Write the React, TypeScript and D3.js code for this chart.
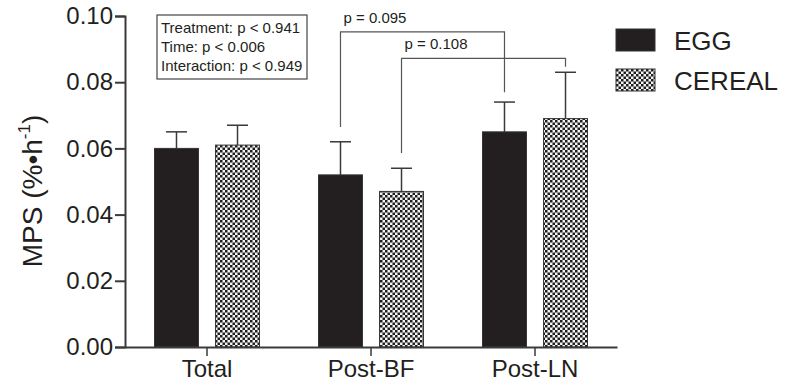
import React, { useEffect, useRef } from "react";
import * as d3 from "d3";

// chart data
const groups = ["Total", "Post-BF", "Post-LN"];
const series = ["EGG", "CEREAL"];
const eggMeans = [0.06, 0.052, 0.065];
const eggErrors = [0.005, 0.01, 0.009];
const cerealMeans = [0.061, 0.047, 0.069];
const cerealErrors = [0.006, 0.007, 0.014];
const yTicks = [0, 0.02, 0.04, 0.06, 0.08, 0.1];
const statsLines = ["Treatment: p < 0.941", "Time: p < 0.006", "Interaction: p < 0.949"];
const brackets = [
  { label: "p = 0.095", from: ["Post-BF", "EGG"], to: ["Post-LN", "EGG"], top: 0.0952, leftEnd: 0.0665, rightEnd: 0.077 },
  { label: "p = 0.108", from: ["Post-BF", "CEREAL"], to: ["Post-LN", "CEREAL"], top: 0.0872, leftEnd: 0.0586, rightEnd: 0.0847 },
];

const FONT = "'Liberation Sans', Arial, Helvetica, sans-serif";
const DARK = "#231f20";
const LINE = "#3a3a3a";

const App = () => {
  const svgRef = useRef<SVGSVGElement>(null);

  useEffect(() => {
    const width = 785;
    const height = 388;
    const svg = d3.select(svgRef.current);
    svg.selectAll("*").remove();
    svg.attr("width", width).attr("height", height).style("font-family", FONT);

    // checker pattern for CEREAL
    const defs = svg.append("defs");
    const pat = defs.append("pattern")
      .attr("id", "checker")
      .attr("patternUnits", "userSpaceOnUse")
      .attr("width", 5).attr("height", 5);
    pat.append("rect").attr("width", 5).attr("height", 5).attr("fill", "#f4f4f4");
    pat.append("rect").attr("x", 0).attr("y", 0).attr("width", 2.5).attr("height", 2.5).attr("fill", "#1e1e1e");
    pat.append("rect").attr("x", 2.5).attr("y", 2.5).attr("width", 2.5).attr("height", 2.5).attr("fill", "#1e1e1e");

    const x0 = d3.scaleBand().domain(groups).range([125, 617]).paddingInner(0.36).paddingOuter(0.18);
    const x1 = d3.scaleBand().domain(series).range([0, x0.bandwidth()]).paddingInner(0.28);
    const y = d3.scaleLinear().domain([0, 0.1]).range([347, 16]);

    const rows = groups.flatMap((g, i) => [
      { group: g, key: "EGG", mean: eggMeans[i], err: eggErrors[i] },
      { group: g, key: "CEREAL", mean: cerealMeans[i], err: cerealErrors[i] },
    ]);
    const cx = (g: string, k: string) => (x0(g) as number) + (x1(k) as number) + x1.bandwidth() / 2;

    // error bars (upward only)
    const eb = svg.append("g").attr("stroke", LINE).attr("stroke-width", 1.5);
    rows.forEach(d => {
      const c = cx(d.group, d.key);
      eb.append("line").attr("x1", c).attr("x2", c).attr("y1", y(d.mean)).attr("y2", y(d.mean + d.err));
      eb.append("line").attr("x1", c - 10.5).attr("x2", c + 10.5).attr("y1", y(d.mean + d.err)).attr("y2", y(d.mean + d.err));
    });

    // bars
    svg.append("g").selectAll("rect")
      .data(rows)
      .enter().append("rect")
      .attr("x", d => (x0(d.group) as number) + (x1(d.key) as number))
      .attr("y", d => y(d.mean))
      .attr("width", x1.bandwidth())
      .attr("height", d => y(0) - y(d.mean))
      .attr("fill", d => d.key === "EGG" ? DARK : "url(#checker)")
      .attr("stroke", "#333")
      .attr("stroke-width", 1);

    // y axis
    const yAxis = svg.append("g").attr("transform", "translate(125,0)")
      .call(d3.axisLeft(y).tickValues(yTicks).tickFormat(d3.format(".2f")).tickSize(10).tickPadding(2));
    yAxis.select(".domain").attr("stroke", LINE).attr("stroke-width", 2);
    yAxis.selectAll(".tick line").attr("stroke", LINE).attr("stroke-width", 2);
    yAxis.selectAll(".tick text").attr("font-size", 24).attr("font-family", FONT).attr("fill", DARK);

    // x axis
    const xAxis = svg.append("g").attr("transform", "translate(0,347)")
      .call(d3.axisBottom(x0).tickSize(9).tickSizeOuter(0).tickPadding(4));
    xAxis.select(".domain").attr("stroke", LINE).attr("stroke-width", 2);
    xAxis.selectAll(".tick line").attr("stroke", LINE).attr("stroke-width", 1.5);
    xAxis.selectAll(".tick text").attr("font-size", 24).attr("font-family", FONT).attr("fill", DARK);

    // y label
    const yl = svg.append("text")
      .attr("transform", "translate(42,191) rotate(-90)")
      .attr("text-anchor", "middle")
      .attr("font-size", 28)
      .attr("fill", DARK);
    yl.append("tspan").text("MPS (%\u2022h");
    yl.append("tspan").attr("dy", -12).attr("font-size", 17).text("-1");
    yl.append("tspan").attr("dy", 12).text(")");

    // significance brackets
    brackets.forEach(b => {
      const xl = cx(b.from[0], b.from[1]);
      const xr = cx(b.to[0], b.to[1]);
      svg.append("path")
        .attr("d", `M${xl},${y(b.leftEnd)}V${y(b.top)}H${xr}V${y(b.rightEnd)}`)
        .attr("fill", "none").attr("stroke", "#555").attr("stroke-width", 1.2);
      svg.append("text")
        .attr("x", xl + 3).attr("y", y(b.top) - 9)
        .attr("font-size", 15).attr("fill", DARK)
        .text(b.label);
    });

    // stats box
    svg.append("rect")
      .attr("x", 157).attr("y", 15).attr("width", 150).attr("height", 64)
      .attr("fill", "white").attr("stroke", "#444").attr("stroke-width", 1.2);
    svg.append("g").selectAll("text")
      .data(statsLines)
      .enter().append("text")
      .attr("x", 161).attr("y", (d, i) => 33 + i * 19)
      .attr("font-size", 15).attr("fill", DARK)
      .text(d => d);

    // legend
    const legend = svg.append("g").attr("transform", "translate(616,29)");
    series.forEach((s, i) => {
      legend.append("rect")
        .attr("x", 0).attr("y", i * 40).attr("width", 39).attr("height", 22)
        .attr("fill", s === "EGG" ? DARK : "url(#checker)")
        .attr("stroke", "#333").attr("stroke-width", 1);
      legend.append("text")
        .attr("x", 58).attr("y", i * 40 + 21)
        .attr("font-size", 26).attr("fill", DARK)
        .text(s);
    });
  }, []);

  return <svg ref={svgRef} style={{ position: "absolute", left: 0, top: 0, background: "white" }}></svg>;
};

export default App;
